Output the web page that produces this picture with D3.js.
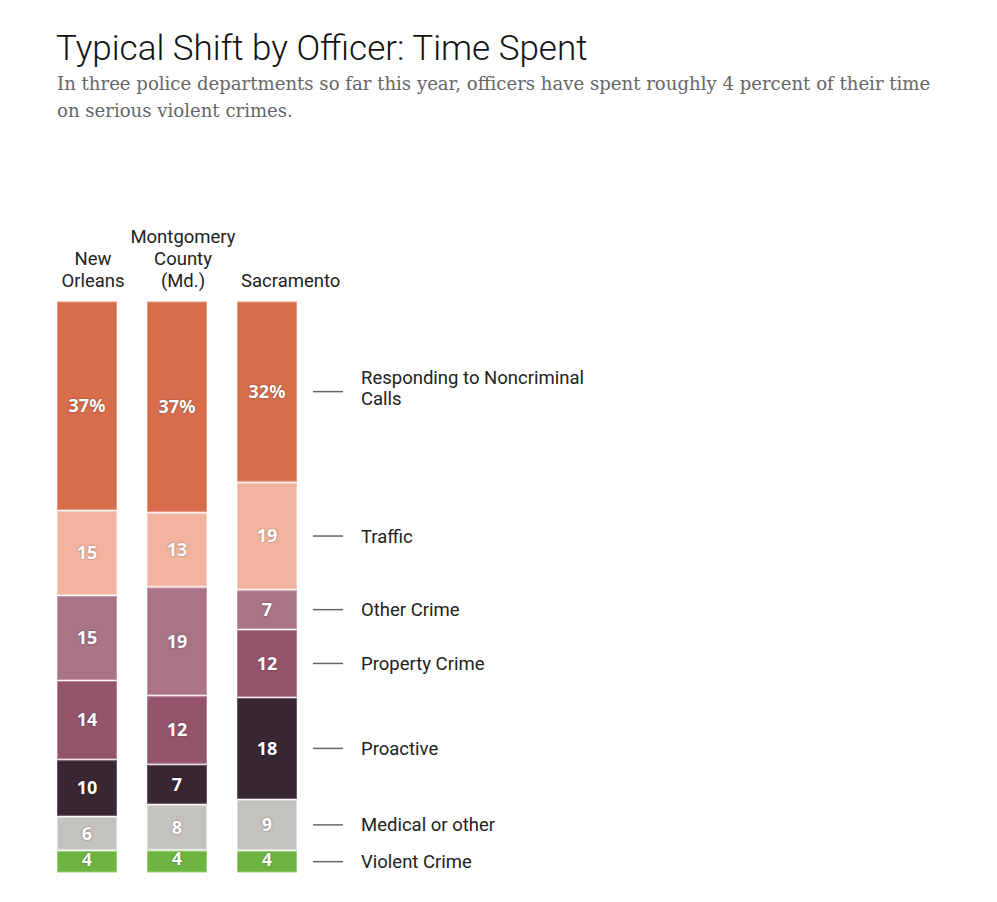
<!DOCTYPE html>
<html>
<head>
<meta charset="utf-8">
<script src="https://cdn.jsdelivr.net/npm/d3@7"></script>
<style>
  body { margin: 0; background: #fff; }
  svg { display: block; }
</style>
</head>
<body>
<div id="chart"></div>
<script>
'use strict';

// data
var departments = ['New Orleans', 'Montgomery County (Md.)', 'Sacramento'];
var headerLines = [['New', 'Orleans'], ['Montgomery', 'County', '(Md.)'], ['Sacramento']];
var categories = ['Responding to Noncriminal Calls', 'Traffic', 'Other Crime', 'Property Crime',
                  'Proactive', 'Medical or other', 'Violent Crime'];
var legendLines = [['Responding to Noncriminal', 'Calls'], ['Traffic'], ['Other Crime'], ['Property Crime'],
                   ['Proactive'], ['Medical or other'], ['Violent Crime']];
var newOrleans = [37, 15, 15, 14, 10, 6, 4];
var montgomery = [37, 13, 19, 12, 7, 8, 4];
var sacramento = [32, 19, 7, 12, 18, 9, 4];
var colors = ['#d76d4d', '#f2b49e', '#a87486', '#94546c', '#382633', '#c3c2bd', '#6db33f'];
var strokes = ['#e69a80', '#f7d0c2', '#c59aa7', '#b6849a', '#6a5662', '#dcdbd7', '#9ed07c'];

var series = [newOrleans, montgomery, sacramento];

var width = 997, height = 902;
var barTop = 301, barBottom = 873;

var svg = d3.select('#chart').append('svg')
    .attr('width', width)
    .attr('height', height);

// title + subtitle
svg.append('text')
    .attr('x', 56).attr('y', 60)
    .attr('font-family', 'Roboto, "Liberation Sans", sans-serif')
    .attr('font-weight', 300)
    .attr('font-size', 35)
    .attr('fill', '#121212')
    .text('Typical Shift by Officer: Time Spent');

var sub = svg.append('text')
    .attr('font-family', '"DejaVu Serif", Georgia, serif')
    .attr('font-size', 18.1)
    .attr('fill', '#666');
sub.append('tspan').attr('x', 57).attr('y', 90)
    .text('In three police departments so far this year, officers have spent roughly 4 percent of their time');
sub.append('tspan').attr('x', 57).attr('y', 117)
    .text('on serious violent crimes.');

// scales
var x = d3.scaleBand()
    .domain(departments)
    .range([57, 297])
    .paddingInner(1 / 3)
    .paddingOuter(0);

// column headers: centred a little right of the bar, long single words start at the bar
departments.forEach(function (d, i) {
    var lines = headerLines[i];
    var t = svg.append('text')
        .attr('text-anchor', 'middle')
        .attr('font-family', 'Roboto, "Liberation Sans", sans-serif')
        .attr('font-size', 18.5)
        .attr('fill', '#222');
    lines.forEach(function (l, j) {
        t.append('tspan')
            .attr('x', x(d) + x.bandwidth() / 2 + 6)
            .attr('y', 287 - (lines.length - 1 - j) * 22)
            .text(l);
    });
    if (lines.length === 1 && t.node().getComputedTextLength() > x.bandwidth() + 20) {
        t.attr('text-anchor', 'start').select('tspan').attr('x', x(d) + 4);
    }
});

// stacked bars, each column scaled to its own total
var legendY = [];
series.forEach(function (vals, i) {
    var total = d3.sum(vals);
    var y = d3.scaleLinear().domain([0, total]).range([barTop, barBottom]);
    var segs = [];
    var acc = 0;
    vals.forEach(function (v, k) {
        segs.push({ k: k, v: v, y0: acc, y1: acc + v });
        acc += v;
    });

    var g = svg.append('g');
    g.selectAll('rect')
        .data(segs)
        .join('rect')
        .attr('x', x(departments[i]) + 0.5)
        .attr('y', function (d) { return y(d.y0) + 1; })
        .attr('width', x.bandwidth() - 1)
        .attr('height', function (d) { return Math.max(0, y(d.y1) - y(d.y0) - 2); })
        .attr('fill', function (d) { return colors[d.k]; })
        .attr('stroke', function (d) { return strokes[d.k]; })
        .attr('stroke-width', 1);

    g.selectAll('text')
        .data(segs)
        .join('text')
        .attr('x', x(departments[i]) + x.bandwidth() / 2)
        .attr('y', function (d) {
            var h = y(d.y1) - y(d.y0);
            return h < 30 ? y(d.y0) + 9 : (y(d.y0) + y(d.y1)) / 2;
        })
        .attr('dy', '0.35em')
        .attr('text-anchor', 'middle')
        .attr('font-family', '"Noto Sans", "DejaVu Sans", sans-serif')
        .attr('font-weight', 700)
        .attr('font-size', 18)
        .attr('fill', '#fff')
        .style('text-shadow', '0 0 2px rgba(0,0,0,0.45)')
        .text(function (d) { return d.k === 0 ? d.v + '%' : d.v; });

    if (i === series.length - 1) {
        segs.forEach(function (d) { legendY.push((y(d.y0) + y(d.y1)) / 2); });
    }
});

// legend labels beside the last column
var lx = x(departments[2]) + x.bandwidth() + 16;
categories.forEach(function (c, k) {
    var yy = legendY[k];
    svg.append('line')
        .attr('x1', lx).attr('x2', lx + 30)
        .attr('y1', yy).attr('y2', yy)
        .attr('stroke', '#666')
        .attr('stroke-width', 1.5);
    var lines = legendLines[k];
    var t = svg.append('text')
        .attr('font-family', 'Roboto, "Liberation Sans", sans-serif')
        .attr('font-size', 18.5)
        .attr('fill', '#222');
    lines.forEach(function (l, j) {
        t.append('tspan')
            .attr('x', lx + 48)
            .attr('y', yy - 14 + j * 21)
            .attr('dy', '0.35em')
            .text(l);
    });
    if (lines.length === 1) t.select('tspan').attr('y', yy);
});
</script>
</body>
</html>
